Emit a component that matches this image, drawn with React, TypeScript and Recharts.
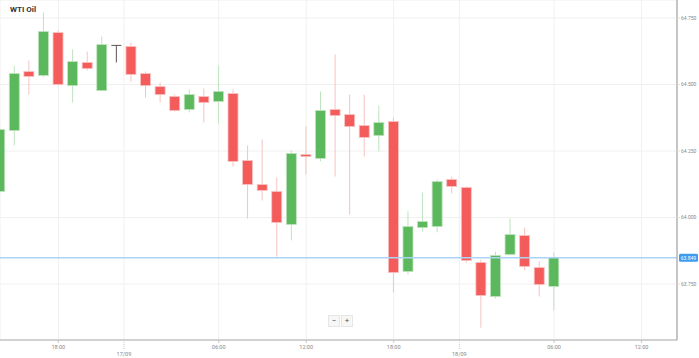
import { ComposedChart, Bar, XAxis, YAxis, CartesianGrid, ReferenceLine } from "recharts";

// hourly candles
const opens = [64.098, 64.327, 64.549, 64.534, 64.695, 64.496, 64.583, 64.477, 64.647, 64.643, 64.541, 64.492, 64.455, 64.406, 64.455, 64.436, 64.466, 64.214, 64.124, 64.098, 63.974, 64.237, 64.222, 64.406, 64.387, 64.346, 64.308, 64.361, 63.797, 63.962, 63.966, 64.143, 64.113, 63.831, 63.703, 63.861, 63.932, 63.812, 63.741];
const highs = [64.34, 64.571, 64.59, 64.771, 64.703, 64.632, 64.624, 64.68, 64.648, 64.658, 64.549, 64.508, 64.462, 64.481, 64.485, 64.571, 64.481, 64.271, 64.293, 64.15, 64.252, 64.342, 64.474, 64.613, 64.462, 64.462, 64.421, 64.376, 64.023, 64.094, 64.143, 64.154, 64.117, 63.842, 63.872, 63.996, 63.962, 63.835, 63.868];
const lows = [64.09, 64.271, 64.462, 64.528, 64.496, 64.432, 64.553, 64.475, 64.583, 64.511, 64.451, 64.432, 64.398, 64.395, 64.357, 64.353, 64.192, 63.996, 64.064, 63.853, 63.914, 64.162, 64.211, 64.154, 64.011, 64.229, 64.248, 63.718, 63.786, 63.947, 63.944, 64.09, 63.831, 63.586, 63.695, 63.857, 63.801, 63.703, 63.65];
const closes = [64.331, 64.541, 64.53, 64.699, 64.5, 64.586, 64.56, 64.65, 64.647, 64.538, 64.496, 64.462, 64.402, 64.462, 64.432, 64.474, 64.211, 64.124, 64.102, 63.981, 64.241, 64.229, 64.402, 64.383, 64.342, 64.301, 64.357, 63.793, 63.966, 63.985, 64.135, 64.117, 63.838, 63.707, 63.857, 63.936, 63.816, 63.748, 63.849];

const xTicks = [4, 8.5, 15, 21, 27, 31.5, 38, 44];
const xTickLabels = ["18:00", "17/09", "06:00", "12:00", "18:00", "18/09", "06:00", "12:00"];
const yTicks = [63.75, 64, 64.25, 64.5, 64.75];
const lastPrice = 63.849;

const data = opens.map((o, i) => ({ i, open: o, high: highs[i], low: lows[i], close: closes[i] }));

const FONT = "Roboto, 'Open Sans', sans-serif";

function Candle(props: any) {
  const { x, y, width, height, payload } = props;
  if (!payload) return null;
  const { open, close, high, low } = payload;
  const top = Math.min(y, y + height);
  const h = Math.abs(height);
  const k = h / (high - low);
  const py = (v: number) => top + (high - v) * k;
  const cx = x + width / 2;

  if (open === close) {
    return (
      <g>
        <line x1={cx} x2={cx} y1={py(high)} y2={py(low)} stroke="#555" strokeWidth={1} />
        <line x1={x} x2={x + width} y1={py(open)} y2={py(open)} stroke="#555" strokeWidth={1} />
      </g>
    );
  }
  const up = close > open;
  const body = up ? "#5cb85c" : "#f45b5b";
  const wick = up ? "#bfe3bf" : "#f8c2c2";
  const bTop = py(Math.max(open, close));
  const bBot = py(Math.min(open, close));
  return (
    <g>
      <line x1={cx} x2={cx} y1={py(high)} y2={py(low)} stroke={wick} strokeWidth={1} />
      <rect x={x} y={bTop} width={width} height={Math.max(bBot - bTop, 1)} fill={body} stroke={wick} strokeWidth={0.8} />
    </g>
  );
}

function TimeTick({ x, y, payload }: any) {
  const idx = xTicks.indexOf(payload.value);
  const label = xTickLabels[idx] ?? "";
  const isDate = label.includes("/");
  return (
    <g>
      <line x1={x} x2={x} y1={y} y2={y + (isDate ? 9 : 3)} stroke="#bbb" strokeWidth={0.8} strokeDasharray={isDate ? "1 1" : undefined} />
      <text x={x} y={isDate ? y + 16 : y + 9} textAnchor="middle" fontSize={5.5} fill="#888" fontFamily={FONT}>
        {label}
      </text>
    </g>
  );
}

function PriceLabel(props: any) {
  const vb = props.viewBox;
  if (!vb) return null;
  const lx = vb.x + vb.width + 2;
  return (
    <g>
      <rect x={lx} y={vb.y - 4} width={19} height={8} rx={1.5} fill="#3d9bf0" />
      <text x={lx + 9.5} y={vb.y + 2} textAnchor="middle" fontSize={5} fill="#fff" fontFamily={FONT}>
        {lastPrice.toFixed(3)}
      </text>
    </g>
  );
}

export default function App() {
  return (
    <div style={{ position: "relative", width: 699, height: 358, background: "#fff" }}>
      <style>{"body{margin:0}"}</style>
      <ComposedChart width={699} height={358} data={data} margin={{ top: 0, right: 0, left: 0, bottom: 0 }}>
        <CartesianGrid stroke="#f0f0f0" strokeWidth={1} />
        <XAxis
          dataKey="i"
          type="number"
          domain={[0, 46.43]}
          ticks={xTicks}
          interval={0}
          height={18}
          tickSize={0}
          tickMargin={0}
          tick={<TimeTick />}
          tickLine={false}
          axisLine={{ stroke: "#c4c4c4", strokeWidth: 1.5 }}
        />
        <YAxis
          orientation="right"
          domain={[63.5395, 64.8177]}
          allowDataOverflow
          ticks={yTicks}
          width={22}
          tickSize={3}
          tickMargin={1}
          tickFormatter={(v: number) => v.toFixed(3)}
          tick={{ fontSize: 5, fill: "#888", fontFamily: FONT, textAnchor: "start" }}
          tickLine={{ stroke: "#ddd" }}
          axisLine={{ stroke: "#b5b5b5", strokeWidth: 1.5 }}
        />
        <Bar
          dataKey={(d: any) => [d.low, d.high]}
          barSize={10}
          shape={<Candle />}
          isAnimationActive={false}
        />
        <ReferenceLine y={lastPrice} stroke="#a9d4f5" strokeWidth={1.5} label={<PriceLabel />} />
      </ComposedChart>
      <div style={{ position: "absolute", left: 10, top: 5, fontFamily: FONT, fontWeight: 700, fontSize: 8, color: "#333" }}>
        WTI Oil
      </div>
      <div style={{ position: "absolute", left: 328, top: 315, display: "flex", gap: 1, fontFamily: FONT, fontSize: 8, color: "#555" }}>
        <div style={{ width: 10, height: 10, lineHeight: "10px", textAlign: "center", background: "#f7f7f7", border: "1px solid #e6e6e6" }}>−</div>
        <div style={{ width: 10, height: 10, lineHeight: "10px", textAlign: "center", background: "#f7f7f7", border: "1px solid #e6e6e6" }}>+</div>
      </div>
    </div>
  );
}
